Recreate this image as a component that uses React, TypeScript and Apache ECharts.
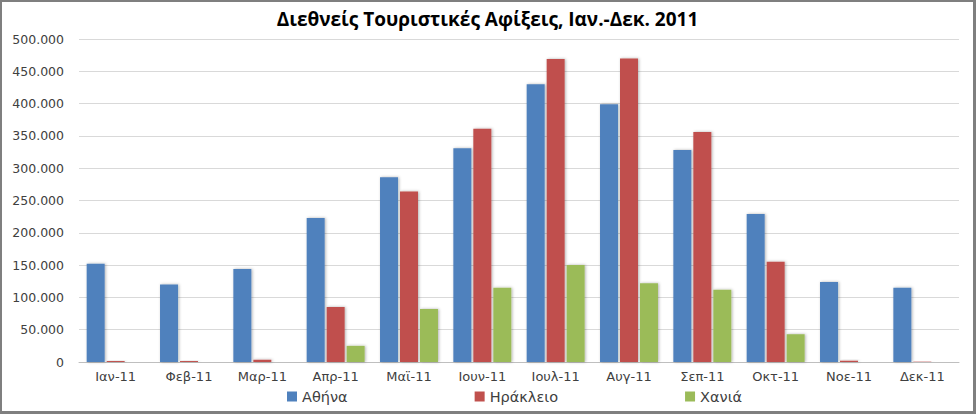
import React, { useEffect, useRef } from "react";
import * as echarts from "echarts";

const categories = ["Ιαν-11", "Φεβ-11", "Μαρ-11", "Απρ-11", "Μαϊ-11", "Ιουν-11", "Ιουλ-11", "Αυγ-11", "Σεπ-11", "Οκτ-11", "Νοε-11", "Δεκ-11"];
const athens = [152000, 120000, 144000, 223000, 286000, 331000, 430000, 399000, 328000, 229000, 124000, 115000];
const heraklion = [1500, 1500, 3500, 85000, 264000, 361000, 469000, 470000, 356000, 155000, 2000, 500];
const chania = [0, 0, 0, 25000, 82000, 115000, 150000, 122000, 112000, 43000, 0, 0];
const seriesNames = ["Αθήνα", "Ηράκλειο", "Χανιά"];
const colors = ["#4F81BD", "#C0504D", "#9BBB59"];

const fmt = (v: number) => String(v).replace(/\B(?=(\d{3})+(?!\d))/g, ".");

export default function App() {
  const ref = useRef<HTMLDivElement>(null);
  useEffect(() => {
    document.body.style.margin = "0";
    if (!ref.current) return;
    const chart = echarts.init(ref.current, null, { renderer: "svg" });
    const data = [athens, heraklion, chania];
    chart.setOption({
      animation: false,
      backgroundColor: "#ffffff",
      title: {
        text: "Διεθνείς Τουριστικές Αφίξεις, Ιαν.-Δεκ. 2011",
        left: "center",
        top: 2,
        textStyle: { fontFamily: "Open Sans", fontWeight: "bold", fontSize: 19, color: "#000" },
      },
      legend: {
        bottom: 2,
        left: 280,
        itemGap: 127,
        itemWidth: 10,
        itemHeight: 10,
        icon: "rect",
        textStyle: { fontFamily: "DejaVu Sans", fontSize: 14.5, color: "#404040" },
        data: seriesNames,
      },
      grid: { left: 77, right: 14, top: 37, bottom: 49 },
      xAxis: {
        type: "category",
        data: categories,
        axisTick: { show: false },
        axisLine: { lineStyle: { color: "#bfbfbf", width: 1 } },
        axisLabel: { fontFamily: "DejaVu Sans", fontSize: 13, color: "#404040", margin: 8 },
      },
      yAxis: {
        type: "value",
        min: 0,
        max: 500000,
        interval: 50000,
        axisLine: { show: false },
        axisTick: { show: false },
        splitLine: { lineStyle: { color: "#d9d9d9", width: 1 } },
        axisLabel: { fontFamily: "DejaVu Sans", fontSize: 12.5, color: "#404040", margin: 15, formatter: (v: number) => fmt(v) },
      },
      series: seriesNames.map((name, i) => ({
        name,
        type: "bar",
        data: data[i],
        barWidth: 18,
        barGap: "11%",
        itemStyle: {
          color: colors[i],
          shadowBlur: 3,
          shadowColor: "rgba(0,0,0,0.3)",
          shadowOffsetX: 1,
          shadowOffsetY: 0,
        },
      })),
    });
    return () => chart.dispose();
  }, []);
  return (
    <div
      ref={ref}
      style={{ width: 976, height: 414, boxSizing: "border-box", border: "2px solid #7f7f7f", borderRightWidth: 3, borderBottomWidth: 3 }}
    />
  );
}
